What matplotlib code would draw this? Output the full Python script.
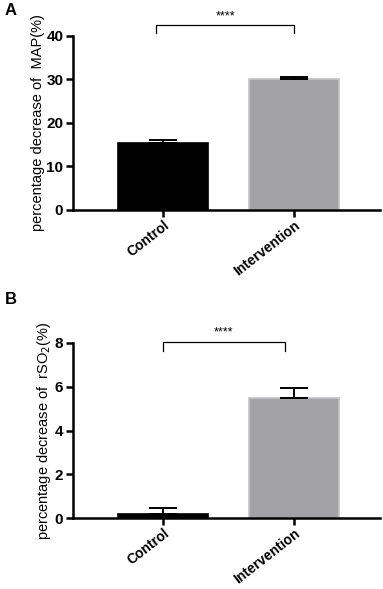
import matplotlib
matplotlib.use("Agg")
import matplotlib.pyplot as plt

categories = ["Control", "Intervention"]
map_values = [15.5, 30.0]
map_err = [0.7, 0.5]
rso2_values = [0.2, 5.5]
rso2_err = [0.25, 0.43]
bar_colors = ["#000000", "#a2a2a7"]
edge_colors = ["#000000", "#c4c4c6"]

fig = plt.figure(figsize=(3.83, 5.89), dpi=100)
plt.rcParams['font.family'] = ['Liberation Sans', 'DejaVu Sans']

def panel(rect, vals, errs, ymax, yticks, ylabel, letter, letter_y, br_y, br_drop, br_x):
    ax = fig.add_axes(rect)
    x = range(len(categories))
    ax.bar(x, vals, width=0.68, color=bar_colors, edgecolor=edge_colors, linewidth=1.2, zorder=2)
    for i in x:
        ax.errorbar(i, vals[i], yerr=[[0], [errs[i]]], fmt='none', ecolor='black',
                    elinewidth=1.4, capsize=10, capthick=1.4, zorder=3)
    ax.set_xlim(-0.687, 1.656)
    ax.set_ylim(0, ymax)
    ax.set_yticks(yticks)
    ax.set_yticklabels([str(t) for t in yticks], fontweight='bold', fontsize=11)
    ax.set_xticks(list(x))
    ax.set_xticklabels(categories, rotation=38, ha='right', rotation_mode='anchor',
                       fontweight='bold', fontsize=10)
    for s in ['top', 'right']:
        ax.spines[s].set_visible(False)
    for s in ['left', 'bottom']:
        ax.spines[s].set_linewidth(1.8)
    ax.tick_params(axis='both', width=1.8, length=5, pad=2)
    ax.tick_params(axis='x', pad=1)
    ax.set_ylabel(ylabel, fontsize=10.5, labelpad=1)
    # significance bracket
    x0, x1 = br_x
    ax.plot([x0, x0, x1, x1], [br_y - br_drop, br_y, br_y, br_y - br_drop],
            color='black', lw=0.9, clip_on=False)
    ax.text((x0 + x1) / 2, br_y + br_drop * 0.4, "****", ha='center', va='bottom', fontsize=9)
    fig.text(0.012, letter_y, letter, fontweight='bold', fontsize=12, va='center')
    return ax

panel([0.1906, 0.6435, 0.8015, 0.2954], map_values, map_err, 40, [0, 10, 20, 30, 40],
      "percentage decrease of  MAP(%)", "A", 0.982, 42.5, 1.7, (-0.05, 1.0))
panel([0.1906, 0.1205, 0.8015, 0.2972], rso2_values, rso2_err, 8, [0, 2, 4, 6, 8],
      r"percentage decrease of  rSO$_2$(%)", "B", 0.492, 8.05, 0.4, (0.0, 0.93))

fig.savefig("out.png", dpi=100)
